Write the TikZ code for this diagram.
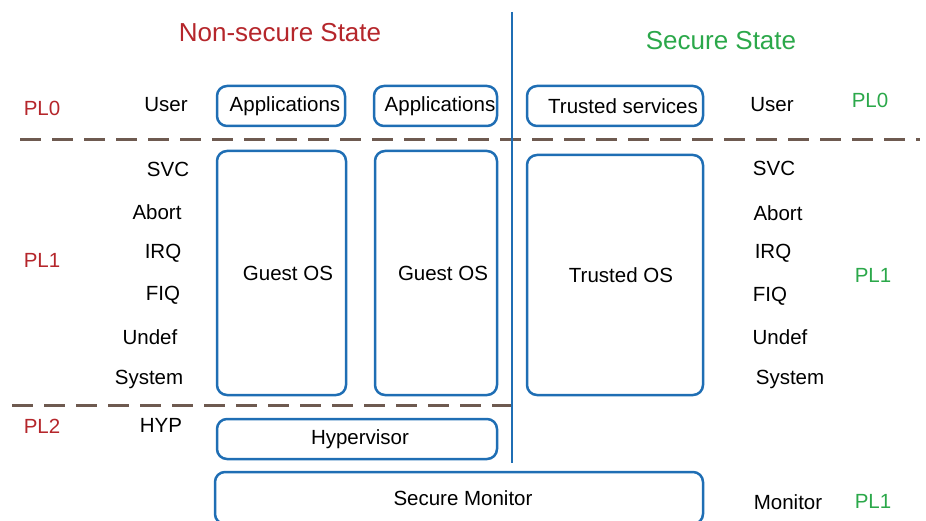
\documentclass[tikz,border=0pt]{standalone}
\usepackage{fontspec}
\setmainfont{Liberation Sans}
\definecolor{boxblue}{HTML}{1F6EB4}
\definecolor{dashbrown}{HTML}{6E5A50}
\definecolor{nsred}{HTML}{B5262B}
\definecolor{sgreen}{HTML}{2BA84A}
\begin{document}
\begin{tikzpicture}[x=1pt,y=-1pt,
  every node/.style={font=\fontsize{20.5}{24}\selectfont, inner sep=0pt},
  every label/.style={font=\fontsize{20.5}{24}\selectfont, inner sep=0pt},
  modebox/.style={draw=boxblue, line width=2.5pt, rounded corners=10pt, fill=none},
  pldash/.style={draw=dashbrown, line width=3pt, dash pattern=on 21pt off 11pt},
  title/.style={font=\fontsize{26}{30}\selectfont},
  nslab/.style={text=nsred},
  slab/.style={text=sgreen}]
\useasboundingbox (0,0) rectangle (926,521);

% separators
\coordinate (d1a) at (20,140);
\coordinate (d1b) at (920,140);
\coordinate (d2a) at (12,405);
\coordinate (d2b) at (512,405);
\coordinate (va) at (512,12);
\coordinate (vb) at (512,463);
\draw[pldash] (d1a) -- (d1b);
\draw[pldash] (d2a) -- (d2b);
\draw[draw=boxblue, line width=2.6pt] (va) -- (vb);

% titles
\node[title, nslab] (nst) at (280,33) {Non-secure State};
\node[title, slab] (sst) at (721,41) {Secure State};

% boxes
\node[modebox, minimum width=128pt, minimum height=40pt,
  label={[xshift=4pt,yshift=-0.5pt]center:Applications}] (app1) at (281,106) {};
\node[modebox, minimum width=123pt, minimum height=40pt,
  label={[xshift=4.5pt,yshift=-0.5pt]center:Applications}] (app2) at (435.5,106) {};
\node[modebox, minimum width=176pt, minimum height=40pt,
  label={[xshift=8pt,yshift=-0.5pt]center:Trusted services}] (ts) at (615,106) {};
\node[modebox, minimum width=129pt, minimum height=244pt,
  label={[xshift=6.5pt]center:Guest OS}] (gos1) at (281.5,273) {};
\node[modebox, minimum width=122pt, minimum height=244pt,
  label={[xshift=7pt]center:Guest OS}] (gos2) at (436,273) {};
\node[modebox, minimum width=176pt, minimum height=240pt,
  label={[xshift=6pt]center:Trusted OS}] (tos) at (615,275) {};
\node[modebox, minimum width=280pt, minimum height=40pt,
  label={[xshift=3pt]center:Hypervisor}] (hyp) at (357,439) {};
\node[modebox, minimum width=488pt, minimum height=52pt,
  label={[xshift=4pt]center:Secure Monitor}] (mon) at (459,498) {};

% left privilege labels
\node[nslab] (pl0l) at (42,108) {PL0};
\node[nslab] (pl1l) at (42,260) {PL1};
\node[nslab] (pl2l) at (42,426) {PL2};

% left modes
\node (userl) at (166,105) {User};
\node (svcl) at (168,169) {SVC};
\node (abtl) at (157,212) {Abort};
\node (irql) at (163,253) {IRQ};
\node (fiql) at (163,295) {FIQ};
\node (undl) at (150,337) {Undef};
\node (sysl) at (149,379) {System};
\node (hypl) at (161,425) {HYP};

% right modes
\node (userr) at (772,105) {User};
\node (svcr) at (774,168) {SVC};
\node (abtr) at (778,213) {Abort};
\node (irqr) at (773,253) {IRQ};
\node (fiqr) at (770,296) {FIQ};
\node (undr) at (780,337) {Undef};
\node (sysr) at (790,379) {System};
\node (monr) at (788,502) {Monitor};

% right privilege labels
\node[slab] (pl0r) at (870,100) {PL0};
\node[slab] (pl1r) at (873,275) {PL1};
\node[slab] (pl1m) at (873,501) {PL1};
\end{tikzpicture}
\end{document}
